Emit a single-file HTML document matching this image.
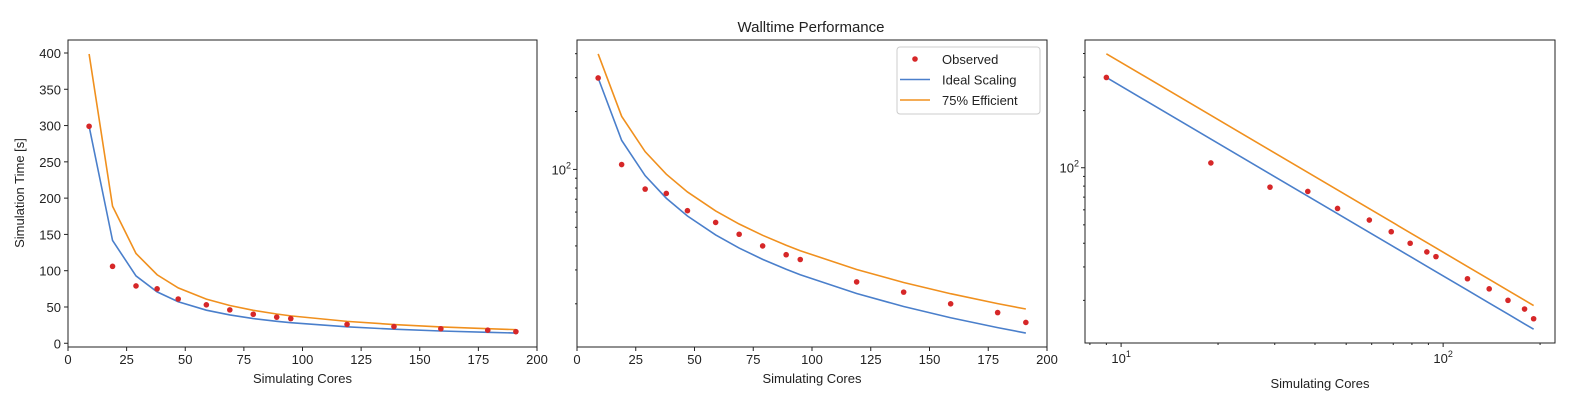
<!DOCTYPE html>
<html><head><meta charset="utf-8"><style>
body{margin:0;background:#fff;}
svg{font-family:"Liberation Sans","DejaVu Sans",sans-serif;}
</style></head><body>
<svg id="chart" width="1571" height="401" viewBox="0 0 1571 401">
<rect width="1571" height="401" fill="#fff"/>
<text x="811" y="32" font-size="15" text-anchor="middle" fill="#222">Walltime Performance</text>
</svg>
<script>
const cores = [9, 19, 29, 38, 47, 59, 69, 79, 89, 95, 119, 139, 159, 179, 191];
const observed = [299, 106, 79, 75, 61, 53, 46, 40, 36, 34, 26, 23, 20, 18, 16];
const baseTime = 299;
const efficiency = 0.75;
const linXTicks = [0, 25, 50, 75, 100, 125, 150, 175, 200];
const linYTicks = [0, 50, 100, 150, 200, 250, 300, 350, 400];

const ideal = cores.map(c => baseTime * cores[0] / c);
const eff = ideal.map(v => v / efficiency);
const NS = "http://www.w3.org/2000/svg";
const svg = document.getElementById('chart');
const BLUE = "#4a7fcb", ORANGE = "#f0901e", RED = "#d62728";

function mk(tag, attrs, parent) {
  const e = document.createElementNS(NS, tag);
  for (const k in attrs) e.setAttribute(k, attrs[k]);
  (parent || svg).appendChild(e);
  return e;
}
const allY = ideal.concat(eff, observed);
const yMinD = Math.min(...allY), yMaxD = Math.max(...allY);

function makePanel(idx, x0, x1, y0, y1, xlog, ylog) {
  const g = mk('g', {});
  
  
  let xs, ys;
  if (xlog) {
    const a = Math.log10(cores[0]), b = Math.log10(cores[cores.length - 1]), m = (b - a) * 0.05;
    xs = v => x0 + (Math.log10(v) - (a - m)) / (b - a + 2 * m) * (x1 - x0);
  } else {
    xs = v => x0 + (v - 0) / 200 * (x1 - x0);
  }
  if (ylog) {
    const a = Math.log10(yMinD), b = Math.log10(yMaxD), m = (b - a) * 0.05;
    ys = v => y1 - (Math.log10(v) - (a - m)) / (b - a + 2 * m) * (y1 - y0);
  } else {
    const m = (yMaxD - yMinD) * 0.05, a = yMinD - m, b = yMaxD + m;
    ys = v => y1 - (v - a) / (b - a) * (y1 - y0);
  }
  if (xlog) {
    for (let d = 1; d <= 100; d *= 10) for (let k = 1; k < 10; k++) {
      const v = d * k, px = xs(v);
      if (px < x0 || px > x1) continue;
      const t = mk('line', {x1: px, x2: px, y1: y1, y2: y1 + (k === 1 ? 4 : 2), stroke: '#222', 'stroke-width': 1}, g);
      
      
      if (k === 1) {
        const tx = mk('text', {x: px, y: y1 + 20, 'font-size': 13, 'text-anchor': 'middle', fill: '#222'}, g);
        
        
        tx.innerHTML = '10<tspan dy="-6" font-size="9">' + Math.log10(v) + '</tspan>';
      }
    }
  } else {
    linXTicks.forEach(v => {
      const px = xs(v);
      const t = mk('line', {x1: px, x2: px, y1: y1, y2: y1 + 4, stroke: '#222'}, g);
      
      
      const tx = mk('text', {x: px, y: y1 + 17, 'font-size': 13, 'text-anchor': 'middle', fill: '#222'}, g);
      
      
      tx.textContent = v;
    });
  }
  if (ylog) {
    for (let d = 10; d <= 100; d *= 10) for (let k = 1; k < 10; k++) {
      const v = d * k, py = ys(v);
      if (py < y0 || py > y1) continue;
      const t = mk('line', {x1: x0, x2: x0 - (k === 1 ? 4 : 2), y1: py, y2: py, stroke: '#222'}, g);
      
      
      if (k === 1) {
        const tx = mk('text', {x: x0 - 6, y: py + 5, 'font-size': 13, 'text-anchor': 'end', fill: '#222'}, g);
        
        
        tx.innerHTML = '10<tspan dy="-6" font-size="9">' + Math.log10(v) + '</tspan>';
      }
    }
  } else {
    linYTicks.forEach(v => {
      const py = ys(v);
      const t = mk('line', {x1: x0, x2: x0 - 4, y1: py, y2: py, stroke: '#222'}, g);
      
      
      const tx = mk('text', {x: x0 - 7, y: py + 5, 'font-size': 13, 'text-anchor': 'end', fill: '#222'}, g);
      
      
      tx.textContent = v;
    });
  }
  const line = (vals, col, name) => {
    const p = mk('polyline', {points: cores.map((c, i) => xs(c) + ',' + ys(vals[i])).join(' '), fill: 'none', stroke: col, 'stroke-width': 1.6}, g);
    
    
  };
  line(ideal, BLUE, 'ideal-scaling-line');
  line(eff, ORANGE, 'efficient-75-line');
  cores.forEach((c, i) => {
    const d = mk('circle', {cx: xs(c), cy: ys(observed[i]), r: 2.8, fill: RED}, g);
    
    
  });
  const fr = mk('rect', {x: x0, y: y0, width: x1 - x0, height: y1 - y0, fill: 'none', stroke: '#222', 'stroke-width': 1}, g);
  
  
  const xl = mk('text', {x: (x0 + x1) / 2, y: xlog ? 388 : 383, 'font-size': 13, 'text-anchor': 'middle', fill: '#222'}, g);
  
  
  xl.textContent = 'Simulating Cores';
  return g;
}
makePanel(1, 68, 537, 40, 347, false, false);
makePanel(2, 577, 1047, 40, 347, false, true);
makePanel(3, 1085, 1555, 40, 343, true, true);

const yt = mk('text', {x: 0, y: 0, 'font-size': 13, 'text-anchor': 'middle', fill: '#222', transform: 'translate(24,193) rotate(-90)'});


yt.textContent = 'Simulation Time [s]';

const lg = mk('g', {});


mk('rect', {x: 897, y: 47, width: 143, height: 67, rx: 3, fill: '#fff', stroke: '#ccc'}, lg);
const entries = [['Observed', 'dot', RED], ['Ideal Scaling', 'line', BLUE], ['75% Efficient', 'line', ORANGE]];
entries.forEach((e, i) => {
  const y = 59 + i * 20.5;
  const eg = mk('g', {}, lg);
  
  
  if (e[1] === 'dot') mk('circle', {cx: 915, cy: y, r: 2.8, fill: e[2]}, eg);
  else mk('line', {x1: 900, x2: 930, y1: y, y2: y, stroke: e[2], 'stroke-width': 1.6}, eg);
  const t = mk('text', {x: 942, y: y + 5, 'font-size': 13, fill: '#222'}, eg);
  t.textContent = e[0];
});
</script>
</body></html>
